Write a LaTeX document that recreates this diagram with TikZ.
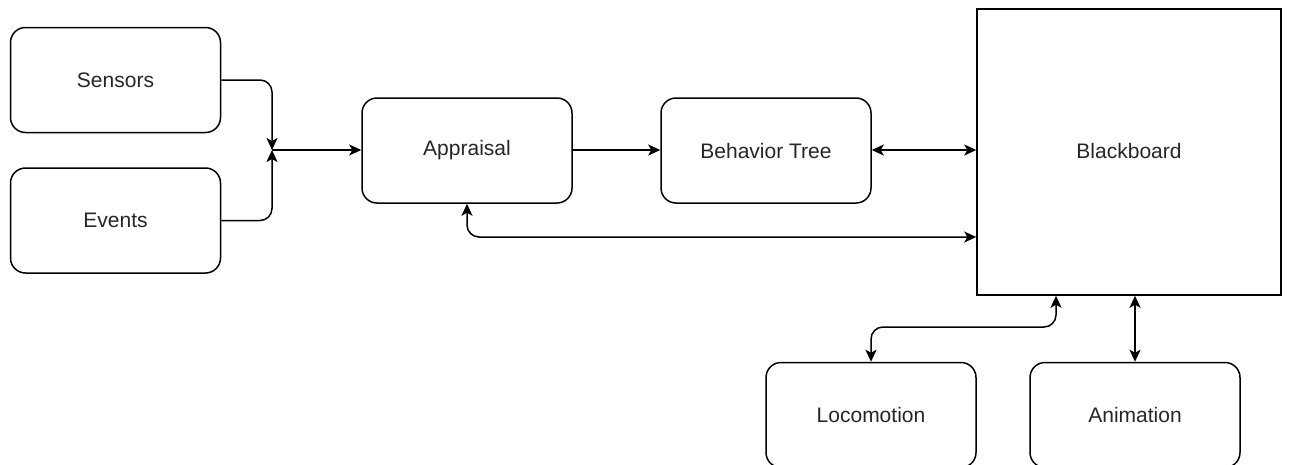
\documentclass[tikz,border=0pt]{standalone}
\usepackage{fontspec}
\setmainfont{Liberation Sans}
\usetikzlibrary{arrows.meta}
\begin{document}
\begin{tikzpicture}[x=1pt,y=-1pt,
  box/.style={draw, line width=1.5pt, rounded corners=15pt, minimum width=210pt, minimum height=105pt, inner sep=0pt, font=\fontsize{21}{25}\selectfont, text=black!85},
  conn/.style={line width=1.5pt, rounded corners=12pt, -{Stealth[length=12pt,width=11pt,inset=3pt]}},
  bconn/.style={line width=1.5pt, rounded corners=12pt, {Stealth[length=12pt,width=11pt,inset=3pt]}-{Stealth[length=12pt,width=11pt,inset=3pt]}}]
\useasboundingbox (0,0) rectangle (1298,464);
\node[box] (sens) at (115.5,80) {Sensors};
\node[box] (evt) at (115.5,220.5) {Events};
\node[box] (app) at (467,150.5) {Appraisal};
\node[box] (bt) at (766,150.5) {Behavior Tree};
\node[box, rounded corners=0pt, minimum width=304pt, minimum height=286pt] (bb) at (1129,152) {};
\node[font=\fontsize{21}{25}\selectfont, text=black!85] (bbl) at (1129,150.5) {Blackboard};
\node[box] (loco) at (871,415) {Locomotion};
\node[box] (anim) at (1135,415) {Animation};
\coordinate (J) at (272,150);
\coordinate (c1) at (0,237);
\coordinate (bx) at (1056,327);
\draw[conn] (sens.east) -| (J);
\draw[conn] (evt.east) -| (J);
\draw[conn] (J) -- (app.west |- J);
\draw[conn] (app.east |- J) -- (bt.west |- J);
\draw[bconn] (bt.east |- J) -- (bb.west |- J);
\draw[bconn] (app.south) |- (bb.west |- c1);
\draw[bconn] (bx |- bb.south) -- (bx) -| (loco.north);
\draw[bconn] (anim.north |- bb.south) -- (anim.north);
\end{tikzpicture}
\end{document}
